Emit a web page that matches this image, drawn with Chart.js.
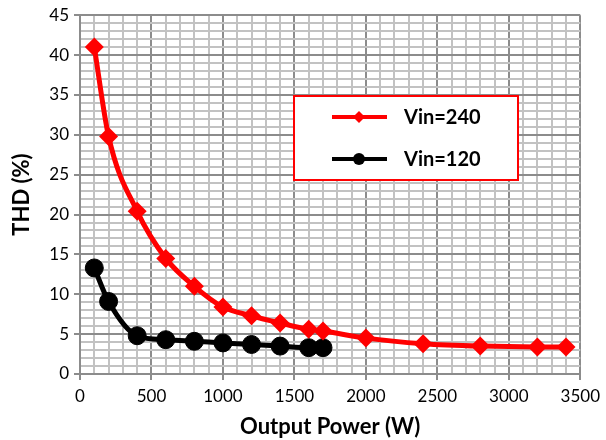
<!DOCTYPE html>
<html>
<head>
<meta charset="utf-8">
<script src="https://cdn.jsdelivr.net/npm/chart.js@4/dist/chart.umd.min.js"></script>
<style>
  html, body { margin: 0; padding: 0; background: #fff; }
  #thd { display: block; }
</style>
</head>
<body>
<canvas id="thd" width="606" height="440"></canvas>
<script>
// output power (W) and THD (%) for both input voltages
var power240 = [100, 200, 400, 600, 800, 1000, 1200, 1400, 1600, 1700, 2000, 2400, 2800, 3200, 3400];
var thd240 = [41.0, 29.8, 20.4, 14.5, 11.0, 8.4, 7.3, 6.4, 5.6, 5.4, 4.5, 3.8, 3.5, 3.4, 3.4];
var power120 = [100, 200, 400, 600, 800, 1000, 1200, 1400, 1600, 1700];
var thd120 = [13.3, 9.1, 4.8, 4.3, 4.1, 3.9, 3.7, 3.5, 3.3, 3.3];
var seriesLabels = ['Vin=240', 'Vin=120'];

var FONT = 'Lato, "Open Sans", sans-serif';
var majorGrid = '#8c8c8c';
var minorGrid = '#c2c2c2';

function toPoints(xs, ys) {
    return xs.map(function (x, i) { return { x: x, y: ys[i] }; });
}

// legend box sitting inside the plot
var boxLegend = {
    id: 'boxLegend',
    afterDatasetsDraw: function (chart) {
        var ctx = chart.ctx;
        var left = 294, top = 96, w = 224, h = 84;
        ctx.save();
        ctx.fillStyle = '#fff';
        ctx.fillRect(left, top, w, h);
        ctx.strokeStyle = '#ff0000';
        ctx.lineWidth = 2;
        ctx.strokeRect(left, top, w, h);
        var rows = [117, 159];
        chart.data.datasets.forEach(function (ds, i) {
            var y = rows[i];
            ctx.strokeStyle = ds.borderColor;
            ctx.lineWidth = 4;
            ctx.beginPath();
            ctx.moveTo(332, y);
            ctx.lineTo(387, y);
            ctx.stroke();
            ctx.fillStyle = ds.borderColor;
            ctx.beginPath();
            if (ds.pointStyle === 'rectRot') {
                ctx.moveTo(359, y - 6);
                ctx.lineTo(365, y);
                ctx.lineTo(359, y + 6);
                ctx.lineTo(353, y);
            } else {
                ctx.arc(359, y, 6, 0, Math.PI * 2);
            }
            ctx.fill();
            ctx.fillStyle = '#000';
            ctx.font = 'bold 20px ' + FONT;
            ctx.textBaseline = 'middle';
            ctx.fillText(ds.label, 404, y + 1);
        });
        ctx.restore();
    }
};

function gridColor(c) {
    return c.tick && c.tick.value % 5 === 0 ? majorGrid : minorGrid;
}

new Chart(document.getElementById('thd'), {
    type: 'line',
    data: {
        datasets: [{
            label: seriesLabels[0],
            data: toPoints(power240, thd240),
            borderColor: '#ff0000',
            backgroundColor: '#ff0000',
            borderWidth: 5,
            pointStyle: 'rectRot',
            pointRadius: 9.5,
            pointBorderWidth: 0,
            cubicInterpolationMode: 'monotone'
        }, {
            label: seriesLabels[1],
            data: toPoints(power120, thd120),
            borderColor: '#000000',
            backgroundColor: '#000000',
            borderWidth: 5,
            pointStyle: 'circle',
            pointRadius: 9,
            pointBorderWidth: 1,
            cubicInterpolationMode: 'monotone'
        }]
    },
    options: {
        responsive: false,
        animation: false,
        layout: { padding: { left: 0, right: 23, top: 13, bottom: 0 } },
        plugins: { legend: { display: false }, tooltip: { enabled: false } },
        scales: {
            x: {
                type: 'linear',
                min: 0,
                max: 3500,
                afterFit: function (s) { s.height = 66; },
                ticks: {
                    stepSize: 100,
                    autoSkip: false,
                    maxRotation: 0,
                    padding: 6,
                    color: '#000',
                    font: { family: FONT, size: 17 },
                    callback: function (v) { return v % 500 === 0 ? v : ''; }
                },
                grid: {
                    color: function (c) { return c.tick && c.tick.value % 500 === 0 ? majorGrid : minorGrid; },
                    lineWidth: 2,
                    tickColor: function (c) { return c.tick && c.tick.value % 500 === 0 ? majorGrid : 'transparent'; },
                    tickLength: 6
                },
                border: { color: majorGrid, width: 2 },
                title: {
                    display: true,
                    text: 'Output Power (W)',
                    color: '#000',
                    font: { family: FONT, size: 22, weight: 'bold' },
                    padding: { top: 0, bottom: 0 }
                }
            },
            y: {
                min: 0,
                max: 45,
                afterFit: function (s) { s.width = 80; },
                ticks: {
                    stepSize: 1,
                    autoSkip: false,
                    padding: 5,
                    color: '#000',
                    font: { family: FONT, size: 17 },
                    callback: function (v) { return v % 5 === 0 ? v : ''; }
                },
                grid: {
                    color: gridColor,
                    lineWidth: 2,
                    tickColor: function (c) { return c.tick && c.tick.value % 5 === 0 ? majorGrid : 'transparent'; },
                    tickLength: 6
                },
                border: { color: majorGrid, width: 2 },
                title: {
                    display: true,
                    text: 'THD (%)',
                    color: '#000',
                    font: { family: FONT, size: 22, weight: 'bold' },
                    padding: { top: 9, bottom: 0 }
                }
            }
        }
    },
    plugins: [boxLegend]
});
</script>
</body>
</html>
